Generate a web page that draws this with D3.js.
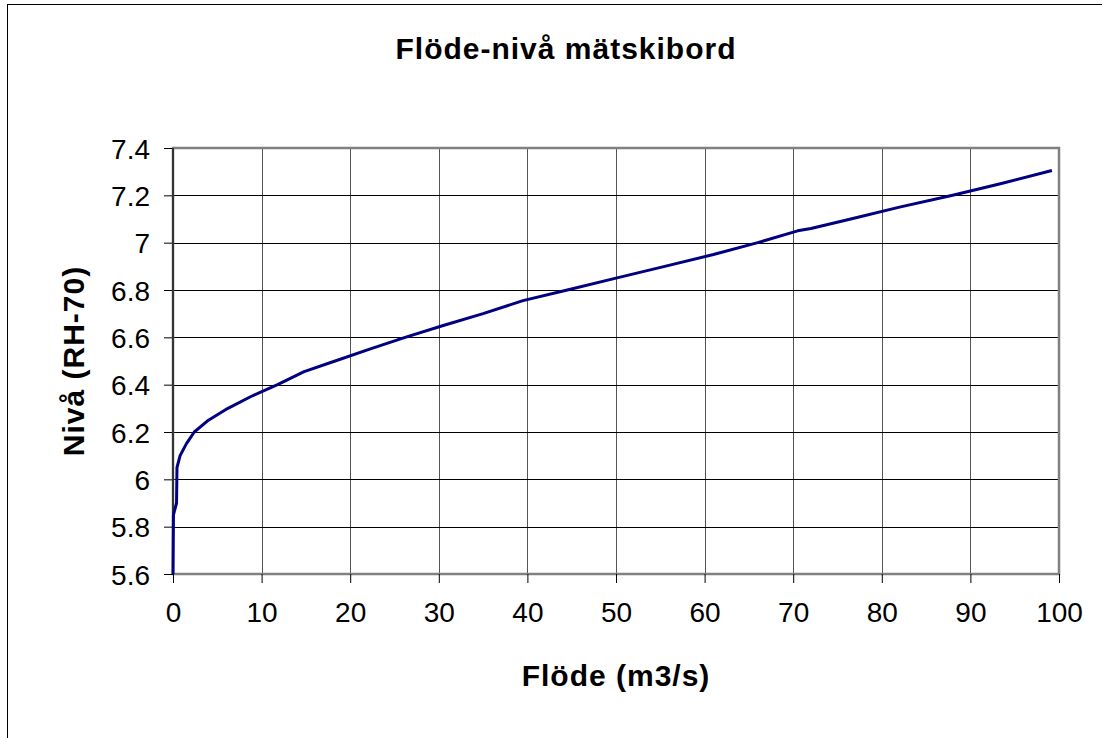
<!DOCTYPE html>
<html>
<head>
<meta charset="utf-8">
<script src="https://cdn.jsdelivr.net/npm/d3@7"></script>
<style>
  body { margin: 0; background: #fff; }
  text { font-family: "Liberation Sans", Arial, sans-serif; fill: #000; }
</style>
</head>
<body>
<div id="chart"></div>
<script>
// discharge (m3/s) and level (RH-70)
const flow  = [0, 0.05, 0.4, 0.45, 0.8, 1.5, 2.4, 4.0, 6.2, 8.8, 11.8, 14.8, 18.3, 22.2, 26.2, 30.5, 35.0, 39.5, 44.5, 50, 55.5, 61, 66, 70.5, 72, 76.5, 82, 88, 93.5, 99.2];
const level = [5.6, 5.85, 5.9, 6.05, 6.1, 6.15, 6.2, 6.25, 6.3, 6.35, 6.4, 6.455, 6.5, 6.55, 6.6, 6.65, 6.7, 6.755, 6.8, 6.85, 6.9, 6.95, 7.0, 7.05, 7.06, 7.1, 7.15, 7.2, 7.25, 7.305];

const xTicks = [0, 10, 20, 30, 40, 50, 60, 70, 80, 90, 100];
const yTicks = [5.6, 5.8, 6, 6.2, 6.4, 6.6, 6.8, 7, 7.2, 7.4];

const chart = {
  width: 1102,
  height: 738,
  left: 173,
  right: 1059,
  top: 148,
  bottom: 574,
};

const svg = d3.select('#chart')
              .append('svg')
              .attr('width', chart.width)
              .attr('height', chart.height);

// outer chart frame (runs off the right and bottom edge)
svg.append('rect')
   .attr('x', 7.5)
   .attr('y', 4.5)
   .attr('width', 1110)
   .attr('height', 750)
   .attr('fill', 'none')
   .attr('stroke', '#000')
   .attr('stroke-width', 1);

const x = d3.scaleLinear().domain([0, 100]).range([chart.left, chart.right]);
const y = d3.scaleLinear().domain([5.6, 7.4]).range([chart.bottom, chart.top]);

// gridlines
svg.append('g')
   .selectAll('line')
   .data(xTicks.slice(1, -1))
   .enter()
   .append('line')
   .attr('x1', d => Math.round(x(d)) + 0.5)
   .attr('x2', d => Math.round(x(d)) + 0.5)
   .attr('y1', chart.top)
   .attr('y2', chart.bottom)
   .attr('stroke', '#555')
   .attr('stroke-width', 1);

svg.append('g')
   .selectAll('line')
   .data(yTicks.slice(1, -1))
   .enter()
   .append('line')
   .attr('x1', chart.left)
   .attr('x2', chart.right)
   .attr('y1', d => Math.round(y(d)) + 0.5)
   .attr('y2', d => Math.round(y(d)) + 0.5)
   .attr('stroke', '#000')
   .attr('stroke-width', 1);

// plot area border
svg.append('rect')
   .attr('x', chart.left)
   .attr('y', chart.top)
   .attr('width', chart.right - chart.left)
   .attr('height', chart.bottom - chart.top)
   .attr('fill', 'none')
   .attr('stroke', '#808080')
   .attr('stroke-width', 2.5);

// axes
const xAxis = d3.axisBottom(x)
                .tickValues(xTicks)
                .tickSize(9)
                .tickPadding(14)
                .tickFormat(d3.format('d'));

const yAxis = d3.axisLeft(y)
                .tickValues(yTicks)
                .tickSize(9)
                .tickPadding(14)
                .tickFormat(d => String(d));

const gx = svg.append('g')
              .attr('transform', `translate(0, ${chart.bottom})`)
              .call(xAxis);

const gy = svg.append('g')
              .attr('transform', `translate(${chart.left}, 0)`)
              .call(yAxis);

[gx, gy].forEach(g => {
  g.select('.domain').remove();
  g.selectAll('.tick line').attr('stroke', '#000');
  g.selectAll('.tick text')
   .style('font-family', '"Liberation Sans", Arial, sans-serif')
   .style('font-size', '28px')
   .attr('fill', '#000');
});

gx.selectAll('.tick text').attr('dy', '0.71em').attr('y', 28);
gy.selectAll('.tick text').attr('x', -23).attr('dy', '0.36em');

// left axis line
svg.append('line')
   .attr('x1', chart.left)
   .attr('x2', chart.left)
   .attr('y1', chart.top)
   .attr('y2', chart.bottom)
   .attr('stroke', '#333')
   .attr('stroke-width', 2);

// the curve
const line = d3.line()
               .x(d => x(d[0]))
               .y(d => y(d[1]));

svg.append('path')
   .datum(flow.map((f, i) => [f, level[i]]))
   .attr('d', line)
   .attr('fill', 'none')
   .attr('stroke', '#000080')
   .attr('stroke-width', 3)
   .attr('stroke-linejoin', 'round');

// titles
svg.append('text')
   .attr('x', 566)
   .attr('y', 59)
   .attr('text-anchor', 'middle')
   .style('font-size', '30px')
   .style('font-weight', 'bold')
   .style('letter-spacing', '1px')
   .text('Flöde-nivå mätskibord');

svg.append('text')
   .attr('x', (chart.left + chart.right) / 2)
   .attr('y', 686)
   .attr('text-anchor', 'middle')
   .style('font-size', '30px')
   .style('font-weight', 'bold')
   .style('letter-spacing', '1px')
   .text('Flöde (m3/s)');

svg.append('text')
   .attr('transform', `translate(84, ${(chart.top + chart.bottom) / 2}) rotate(-90)`)
   .attr('text-anchor', 'middle')
   .style('font-size', '30px')
   .style('font-weight', 'bold')
   .style('letter-spacing', '1px')
   .text('Nivå (RH-70)');
</script>
</body>
</html>
